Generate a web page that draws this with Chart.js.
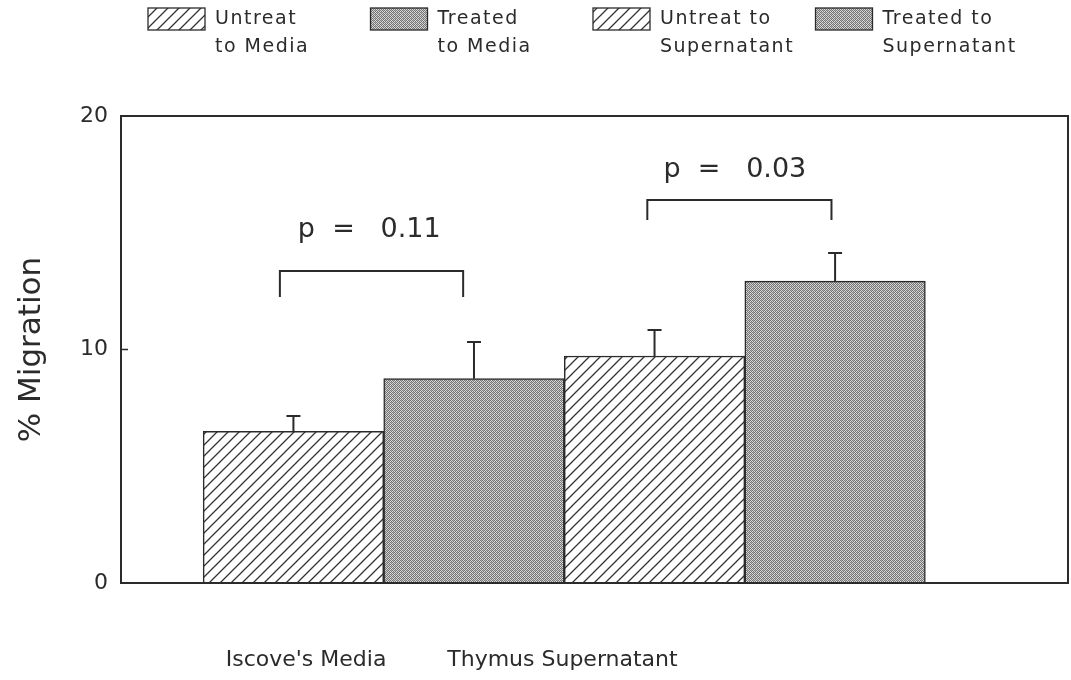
<!DOCTYPE html>
<html>
<head>
<meta charset="utf-8">
<script src="https://cdn.jsdelivr.net/npm/chart.js@4"></script>
<style>
  html, body { margin: 0; padding: 0; background: #fff; }
  #wrap { width: 1071px; height: 680px; }
</style>
</head>
<body>
<div id="wrap"><canvas id="migrationChart"></canvas></div>
<script>
// === Data ===
const barPositions = [1, 2, 3, 4];
const migration = [6.5, 8.75, 9.72, 12.93];      // % migration (bar height)
const errorTop = [7.15, 10.32, 10.84, 14.13];     // top of the SE bar
const legendLabels = [
  ['Untreat', 'to Media'],
  ['Treated', 'to Media'],
  ['Untreat to', 'Supernatant'],
  ['Treated to', 'Supernatant']
];
const groupNames = ["Iscove's Media", 'Thymus Supernatant'];
const groupTickPos = [1.07, 2.49];
const yTicks = [0, 10, 20];

// significance brackets
const brackets = [
  { x0: 0.925, x1: 1.94, yTop: 13.36, yLeg: 12.25, text: 'p  =   0.11', tx: 1.42, ty: 15.1 },
  { x0: 2.96, x1: 3.98, yTop: 16.4, yLeg: 15.55, text: 'p  =   0.03', tx: 3.445, ty: 17.7 }
];

const FONT = '"DejaVu Sans", sans-serif';
const INK = '#2b2b2b';

// === Fill patterns ===
function hatchPattern() {
  const c = document.createElement('canvas');
  c.width = 11; c.height = 11;
  const g = c.getContext('2d');
  g.fillStyle = '#fff';
  g.fillRect(0, 0, 11, 11);
  g.strokeStyle = '#333';
  g.lineWidth = 1.3;
  g.beginPath();
  g.moveTo(0, 11); g.lineTo(11, 0);
  g.moveTo(-5.5, 5.5); g.lineTo(5.5, -5.5);
  g.moveTo(5.5, 16.5); g.lineTo(16.5, 5.5);
  g.stroke();
  return g.createPattern(c, 'repeat');
}

function stipplePattern() {
  const c = document.createElement('canvas');
  c.width = 4; c.height = 4;
  const g = c.getContext('2d');
  g.fillStyle = '#dadada';
  g.fillRect(0, 0, 4, 4);
  g.fillStyle = '#747474';
  g.fillRect(0, 0, 1, 1); g.fillRect(2, 0, 1, 1);
  g.fillRect(1, 1, 1, 1); g.fillRect(3, 1, 1, 1);
  g.fillRect(0, 2, 1, 1); g.fillRect(2, 2, 1, 1);
  g.fillRect(1, 3, 1, 1); g.fillRect(3, 3, 1, 1);
  g.fillStyle = '#b0b0b0';
  g.fillRect(1, 0, 1, 1); g.fillRect(3, 2, 1, 1);
  return g.createPattern(c, 'repeat');
}

const fills = [hatchPattern(), stipplePattern(), hatchPattern(), stipplePattern()];

// === Plugins ===
const framePlugin = {
  id: 'frame',
  afterDatasetsDraw(chart) {
    const { ctx, chartArea: a, scales } = chart;
    ctx.save();
    ctx.strokeStyle = INK;
    ctx.lineWidth = 2;
    ctx.strokeRect(a.left, a.top, a.right - a.left, a.bottom - a.top);
    // small inside ticks on y axis
    ctx.lineWidth = 1.5;
    scales.y.ticks.forEach(t => {
      const py = scales.y.getPixelForValue(t.value);
      ctx.beginPath();
      ctx.moveTo(a.left, py);
      ctx.lineTo(a.left + 7, py);
      ctx.stroke();
    });
    ctx.restore();
  }
};

const errorBarPlugin = {
  id: 'errorBars',
  afterDatasetsDraw(chart) {
    const { ctx, scales } = chart;
    ctx.save();
    ctx.strokeStyle = INK;
    ctx.lineWidth = 2;
    chart.data.datasets.forEach((ds, i) => {
      const bar = chart.getDatasetMeta(i).data[0];
      if (!bar) return;
      const top = scales.y.getPixelForValue(errorTop[i]);
      ctx.beginPath();
      ctx.moveTo(bar.x, bar.y);
      ctx.lineTo(bar.x, top);
      ctx.moveTo(bar.x - 7, top);
      ctx.lineTo(bar.x + 7, top);
      ctx.stroke();
    });
    ctx.restore();
  }
};

const bracketPlugin = {
  id: 'brackets',
  afterDatasetsDraw(chart) {
    const { ctx, scales: { x, y } } = chart;
    ctx.save();
    ctx.strokeStyle = INK;
    ctx.fillStyle = INK;
    ctx.lineWidth = 2;
    ctx.font = '27px ' + FONT;
    ctx.textAlign = 'center';
    ctx.textBaseline = 'middle';
    brackets.forEach(b => {
      const x0 = x.getPixelForValue(b.x0), x1 = x.getPixelForValue(b.x1);
      const yt = y.getPixelForValue(b.yTop), yl = y.getPixelForValue(b.yLeg);
      ctx.beginPath();
      ctx.moveTo(x0, yl);
      ctx.lineTo(x0, yt);
      ctx.lineTo(x1, yt);
      ctx.lineTo(x1, yl);
      ctx.stroke();
      ctx.fillText(b.text, x.getPixelForValue(b.tx), y.getPixelForValue(b.ty));
    });
    ctx.restore();
  }
};

const legendPlugin = {
  id: 'twoLineLegend',
  afterDraw(chart) {
    const { ctx } = chart;
    ctx.save();
    ctx.font = '19px ' + FONT;
    ctx.letterSpacing = '1.5px';
    ctx.textBaseline = 'middle';
    chart.data.datasets.forEach((ds, i) => {
      const bx = 148 + i * 222.5;
      ctx.fillStyle = ds.backgroundColor;
      ctx.fillRect(bx, 8, 57, 22);
      ctx.strokeStyle = INK;
      ctx.lineWidth = 1.3;
      ctx.strokeRect(bx, 8, 57, 22);
      ctx.fillStyle = INK;
      ds.label.forEach((line, k) => {
        ctx.fillText(line, bx + 67, 19 + k * 28);
      });
    });
    ctx.restore();
  }
};

// === Chart ===
new Chart(document.getElementById('migrationChart'), {
  type: 'bar',
  data: {
    datasets: barPositions.map((pos, i) => ({
      label: legendLabels[i],
      data: [{ x: pos, y: migration[i] }],
      backgroundColor: fills[i],
      borderColor: INK,
      borderWidth: 1.5,
      grouped: false,
      barPercentage: 1,
      categoryPercentage: 1
    }))
  },
  options: {
    responsive: true,
    maintainAspectRatio: false,
    animation: false,
    layout: { padding: { top: 116, right: 3, left: 0, bottom: 0 } },
    plugins: {
      legend: { display: false },
      tooltip: { enabled: false }
    },
    scales: {
      x: {
        type: 'linear',
        offset: false,
        min: 0.045,
        max: 5.29,
        grid: { display: false, drawTicks: false },
        border: { display: false },
        afterBuildTicks: scale => {
          scale.ticks = groupTickPos.map(v => ({ value: v }));
        },
        afterFit: scale => { scale.height = 97; },
        ticks: {
          autoSkip: false,
          maxRotation: 0,
          padding: 64,
          color: INK,
          font: { size: 22, family: FONT },
          callback: (value, index) => groupNames[index]
        }
      },
      y: {
        min: 0,
        max: 20,
        grid: { display: false, drawTicks: false },
        border: { display: false },
        afterBuildTicks: scale => {
          scale.ticks = yTicks.map(v => ({ value: v }));
        },
        afterFit: scale => { scale.width = 121; },
        ticks: {
          padding: 13,
          color: INK,
          font: { size: 22, family: FONT }
        },
        title: {
          display: true,
          text: '% Migration',
          color: INK,
          font: { size: 31, family: FONT },
          padding: { top: 13, bottom: 0 }
        }
      }
    }
  },
  plugins: [framePlugin, errorBarPlugin, bracketPlugin, legendPlugin]
});
</script>
</body>
</html>
